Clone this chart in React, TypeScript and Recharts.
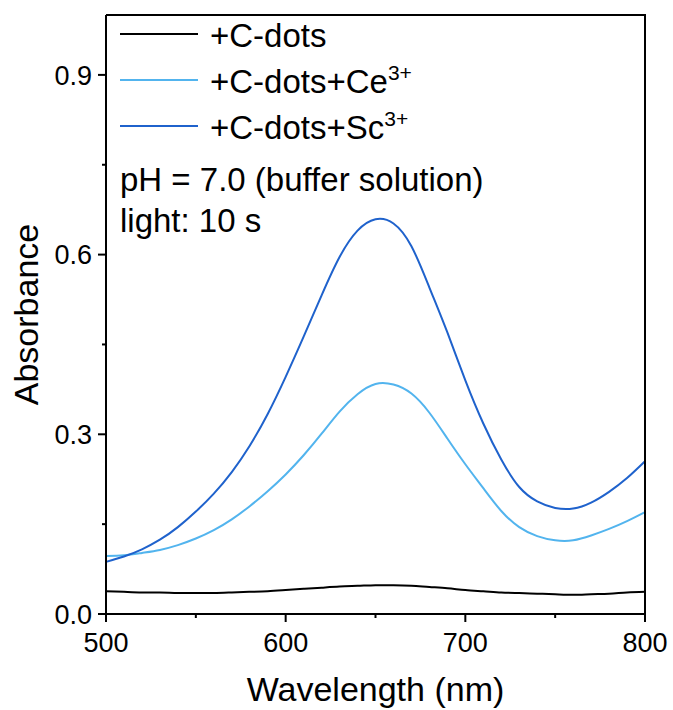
import { LineChart, Line, XAxis, YAxis, Legend } from "recharts";

// absorbance spectra, 10 nm steps
const WAVELENGTH = [
  500, 510, 520, 530, 540, 550, 560, 570, 580, 590, 600, 610, 620, 630, 640, 650,
  660, 670, 680, 690, 700, 710, 720, 730, 740, 750, 760, 770, 780, 790, 800,
];
const CDOTS = [
  0.038, 0.037, 0.036, 0.036, 0.035, 0.035, 0.035, 0.036, 0.037, 0.038, 0.04, 0.042,
  0.044, 0.046, 0.047, 0.048, 0.048, 0.047, 0.045, 0.043, 0.04, 0.038, 0.036, 0.035,
  0.034, 0.033, 0.032, 0.033, 0.034, 0.036, 0.037,
];
const CDOTS_CE = [
  0.097, 0.098, 0.102, 0.107, 0.115, 0.126, 0.14, 0.158, 0.18, 0.205, 0.233, 0.265,
  0.301, 0.338, 0.367, 0.384, 0.383, 0.368, 0.336, 0.293, 0.25, 0.21, 0.172, 0.145,
  0.13, 0.123, 0.123, 0.131, 0.142, 0.155, 0.17,
];
const CDOTS_SC = [
  0.087, 0.096, 0.108, 0.124, 0.145, 0.171, 0.201, 0.237, 0.281, 0.334, 0.396, 0.463,
  0.532, 0.596, 0.64, 0.659, 0.652, 0.614, 0.545, 0.47, 0.39, 0.318, 0.258, 0.212,
  0.188, 0.177, 0.176, 0.186, 0.204, 0.227, 0.255,
];

const X_TICKS = [500, 550, 600, 650, 700, 750, 800];
const X_MAJOR = [500, 600, 700, 800];
const Y_TICKS = [0, 0.15, 0.3, 0.45, 0.6, 0.75, 0.9];
const Y_MAJOR = [0, 0.3, 0.6, 0.9];

const SERIES = [
  { key: "cdots", name: "+C-dots", sup: "", color: "#000000" },
  { key: "ce", name: "+C-dots+Ce", sup: "3+", color: "#52b4ee" },
  { key: "sc", name: "+C-dots+Sc", sup: "3+", color: "#1f62cc" },
];

const FONT = "'Liberation Sans', Arial, sans-serif";

// layout
const W = 673;
const H = 710;
const MARGIN = { top: 15, right: 28, left: 0, bottom: 0 };
const Y_AXIS_W = 106;
const X_AXIS_H = 96;
const PLOT_LEFT = MARGIN.left + Y_AXIS_W;
const PLOT_RIGHT = W - MARGIN.right;
const PLOT_BOTTOM = H - MARGIN.bottom - X_AXIS_H;

const data = WAVELENGTH.map((w, i) => ({
  w,
  cdots: CDOTS[i],
  ce: CDOTS_CE[i],
  sc: CDOTS_SC[i],
}));

const YTick = ({ x, y, payload }: any) => {
  const major = Y_MAJOR.includes(payload.value);
  return (
    <g>
      <line x1={x} x2={x - (major ? 8 : 4)} y1={y} y2={y} stroke="#000" strokeWidth={2} />
      {major && (
        <text x={x - 14} y={y} dy="0.36em" textAnchor="end" fontFamily={FONT} fontSize={27} fill="#000">
          {payload.value.toFixed(1)}
        </text>
      )}
    </g>
  );
};

const XTick = ({ x, y, payload }: any) => {
  const major = X_MAJOR.includes(payload.value);
  return (
    <g>
      <line x1={x} x2={x} y1={y} y2={y + (major ? 8 : 4)} stroke="#000" strokeWidth={2} />
      {major && (
        <text x={x} y={y + 38} textAnchor="middle" fontFamily={FONT} fontSize={27} fill="#000">
          {payload.value}
        </text>
      )}
    </g>
  );
};

const yTitle = (props: any) => {
  const vb = props.viewBox || { x: 0, y: MARGIN.top, width: Y_AXIS_W, height: PLOT_BOTTOM - MARGIN.top };
  const cx = vb.x + 38;
  const cy = vb.y + vb.height / 2;
  return (
    <text x={cx} y={cy} transform={`rotate(-90 ${cx} ${cy})`} textAnchor="middle" fontFamily={FONT} fontSize={34} fill="#000">
      Absorbance
    </text>
  );
};

const xTitle = (props: any) => {
  const vb = props.viewBox || { x: PLOT_LEFT, y: PLOT_BOTTOM, width: PLOT_RIGHT - PLOT_LEFT, height: X_AXIS_H };
  return (
    <text x={vb.x + vb.width / 2} y={vb.y + 87} textAnchor="middle" fontFamily={FONT} fontSize={34} fill="#000">
      Wavelength (nm)
    </text>
  );
};

const renderLegend = ({ payload }: any) => (
  <div style={{ fontFamily: FONT, fontSize: 33, color: "#000" }}>
    {(payload || []).map((entry: any) => {
      const s = SERIES.find((d) => d.key === entry.dataKey);
      return (
        <div key={entry.dataKey} style={{ display: "flex", alignItems: "center", height: 46 }}>
          <svg width={90} height={46} style={{ flex: "none" }}>
            <line x1={0} x2={78} y1={21} y2={21} stroke={entry.color} strokeWidth={2} />
          </svg>
          <span style={{ whiteSpace: "nowrap" }}>
            {entry.value}
            {s && s.sup && (
              <span style={{ fontSize: 21, position: "relative", top: -13 }}>{s.sup}</span>
            )}
          </span>
        </div>
      );
    })}
  </div>
);

export default function App() {
  return (
    <div style={{ position: "absolute", left: 0, top: 0, width: W, height: H, background: "#fff" }}>
      <LineChart width={W} height={H} data={data} margin={MARGIN}>
        <XAxis
          dataKey="w"
          type="number"
          domain={[500, 800]}
          ticks={X_TICKS}
          interval={0}
          height={X_AXIS_H}
          tickSize={0}
          tickMargin={0}
          tickLine={false}
          tick={<XTick />}
          axisLine={{ stroke: "#000", strokeWidth: 2 }}
          label={{ content: xTitle }}
        />
        <YAxis
          type="number"
          domain={[0, 1]}
          ticks={Y_TICKS}
          interval={0}
          width={Y_AXIS_W}
          tickSize={0}
          tickMargin={0}
          tickLine={false}
          tick={<YTick />}
          axisLine={{ stroke: "#000", strokeWidth: 2 }}
          label={{ content: yTitle }}
        />
        <Legend
          layout="vertical"
          align="center"
          verticalAlign="middle"
          wrapperStyle={{ left: 120, top: 13, width: 440 }}
          content={renderLegend}
        />
        {SERIES.map((s) => (
          <Line
            key={s.key}
            type="natural"
            dataKey={s.key}
            name={s.name}
            stroke={s.color}
            strokeWidth={2}
            dot={false}
            activeDot={false}
            isAnimationActive={false}
          />
        ))}
      </LineChart>
      {/* top and right edges of the frame */}
      <div
        style={{
          position: "absolute",
          left: PLOT_LEFT,
          top: MARGIN.top - 1,
          width: PLOT_RIGHT - PLOT_LEFT + 1,
          height: PLOT_BOTTOM - MARGIN.top + 1,
          boxSizing: "border-box",
          borderTop: "2px solid #000",
          borderRight: "2px solid #000",
          pointerEvents: "none",
        }}
      />
      <div
        style={{
          position: "absolute",
          left: 120,
          top: 159,
          fontFamily: FONT,
          fontSize: 33,
          lineHeight: "41px",
          color: "#000",
          whiteSpace: "nowrap",
        }}
      >
        <div>pH = 7.0 (buffer solution)</div>
        <div>light: 10 s</div>
      </div>
    </div>
  );
}
